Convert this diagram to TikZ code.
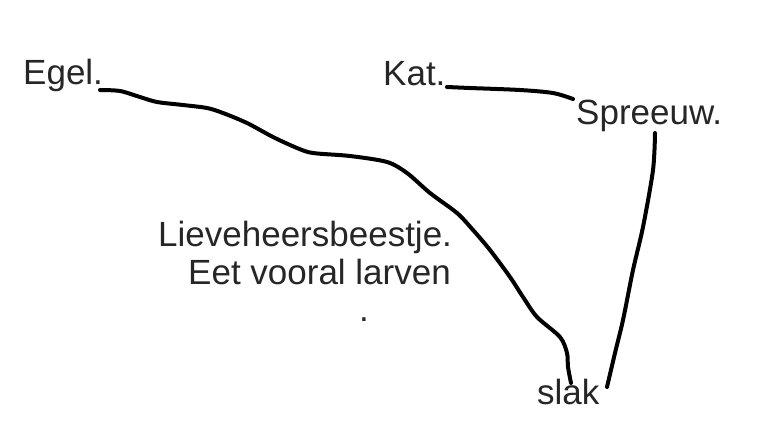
\documentclass[tikz,border=0pt]{standalone}
\usepackage{fontspec}
\setmainfont{Liberation Sans}
\begin{document}
\begin{tikzpicture}[x=1pt,y=-1pt,
  lbl/.style={anchor=base west,inner sep=0pt,font=\fontsize{35}{41}\selectfont,text=black!85},
  stroke/.style={line width=4pt,line cap=round,line join=round,black}]
\useasboundingbox (0,0) rectangle (768,432);
\node[lbl] (egel) at (23,84) {Egel.};
\node[lbl] (kat) at (383,85) {Kat.};
\node[lbl] (spreeuw) at (576,124) {Spreeuw.};
\node[lbl] (lieve) at (158,246) {Lieveheersbeestje.};
\node[lbl] (eet) at (188,284) {Eet vooral larven};
\node[lbl] (dot) at (359,321) {.};
\node[lbl] (slak) at (537,404) {slak};
\coordinate (e1) at (100,90);
\coordinate (s1) at (571,383);
\coordinate (k1) at (447,87);
\coordinate (sp1) at (573,99);
\coordinate (sp2) at (655,133);
\coordinate (s2) at (607,387);
\draw[stroke] plot[smooth,tension=0.5] coordinates {(e1) (120,91) (140,97) (157,102) (183,105) (207,108) (223,113) (247,123) (273,137) (297,148) (313,153) (350,156) (387,162) (407,173) (430,193) (457,213) (473,230) (490,250) (510,277) (523,297) (537,317) (560,337) (567,353) (568,367) (s1)};
\draw[stroke] plot[smooth,tension=0.5] coordinates {(k1) (470,88) (520,90) (553,93) (sp1)};
\draw[stroke] plot[smooth,tension=0.5] coordinates {(sp2) (653,170) (643,227) (633,270) (623,320) (615,353) (s2)};
\end{tikzpicture}
\end{document}
